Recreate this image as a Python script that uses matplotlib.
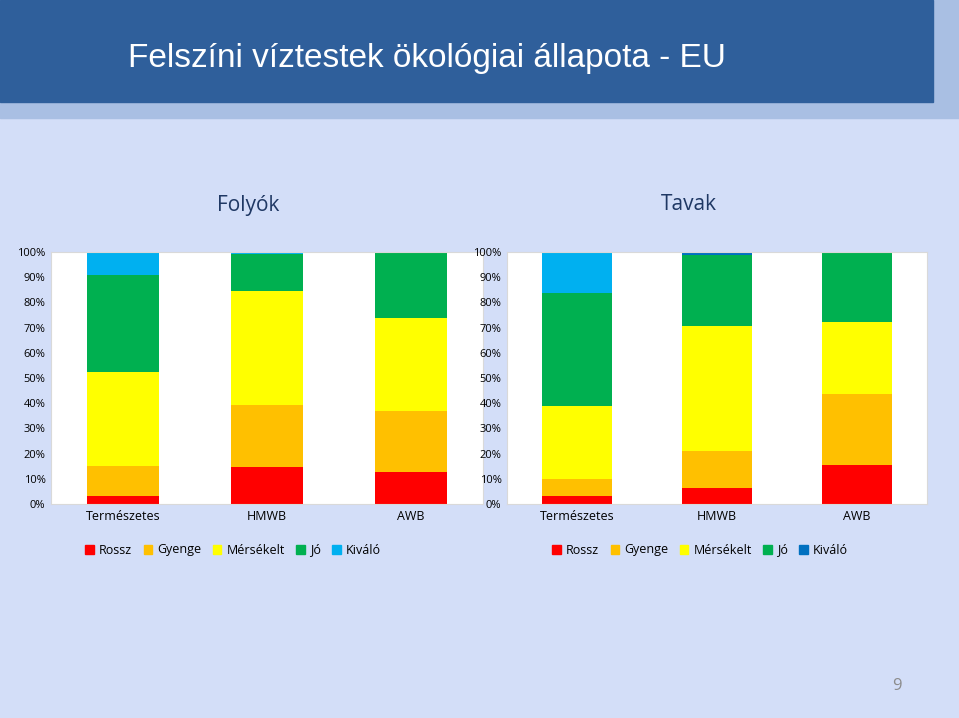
import matplotlib; matplotlib.use("Agg")
import matplotlib.pyplot as plt
from matplotlib.patches import Rectangle

W, H = 959, 718
cats = ["Természetes", "HMWB", "AWB"]
levels = ["Rossz", "Gyenge", "Mérsékelt", "Jó", "Kiváló"]
# shares in %, per category
folyok = {"Rossz": [3.2, 14.7, 12.7], "Gyenge": [11.8, 24.6, 24.2],
          "Mérsékelt": [37.4, 45.2, 36.9], "Jó": [38.6, 14.7, 25.8],
          "Kiváló": [9.0, 0.8, 0.4]}
tavak = {"Rossz": [3.2, 6.3, 15.5], "Gyenge": [6.7, 14.7, 28.2],
         "Mérsékelt": [29.0, 49.6, 28.5], "Jó": [44.8, 28.2, 27.8],
         "Kiváló": [16.3, 1.2, 0.0]}
col_l = {"Rossz": "#FF0000", "Gyenge": "#FFC000", "Mérsékelt": "#FFFF00", "Jó": "#00B050", "Kiváló": "#00B0F0"}
col_r = dict(col_l, Kiváló="#0070C0")
# in the original, the first lake bar's top segment is light blue
tavak_kivalo_bar_cols = ["#00B0F0", "#0070C0", "#0070C0"]

plt.rcParams["font.family"] = "Open Sans"
fig = plt.figure(figsize=(W/100, H/100), dpi=100)
fig.patch.set_facecolor("#D3DEF8")
def px(x, y, w, h): return [x/W, 1-(y+h)/H, w/W, h/H]
bg = fig.add_axes([0, 0, 1, 1]); bg.set_axis_off(); bg.set_xlim(0, W); bg.set_ylim(H, 0)
bg.add_patch(Rectangle((0, 0), W, 118, color="#A9BFE3"))
bg.add_patch(Rectangle((0, 0), 933, 102, color="#2F5F9B"))
bg.text(128, 58, "Felszíni víztestek ökológiai állapota - EU", color="white", fontsize=24,
        va="center", family="Liberation Sans")
bg.text(248, 205, "Folyók", color="#1F3864", fontsize=15, ha="center", va="center")
bg.text(689, 205, "Tavak", color="#1F3864", fontsize=15, ha="center", va="center")
bg.text(897, 686, "9", color="#8C8C8C", fontsize=12, ha="center", va="center")

def panel(rect, data, cols, legx, top_cols=None):
    ax = fig.add_axes(px(*rect))
    ax.set_facecolor("white")
    bottom = [0, 0, 0]
    for lv in levels:
        c = top_cols if (lv == "Kiváló" and top_cols) else cols[lv]
        ax.bar(range(3), data[lv], bottom=bottom, width=0.5, color=c)
        bottom = [b + v for b, v in zip(bottom, data[lv])]
    ax.set_ylim(0, 100); ax.set_xlim(-0.5, 2.5)
    ax.set_yticks(range(0, 101, 10)); ax.set_yticklabels([f"{v}%" for v in range(0, 101, 10)], fontsize=8)
    ax.set_xticks(range(3)); ax.set_xticklabels(cats, fontsize=9)
    ax.tick_params(length=0, pad=4)
    for s in ax.spines.values(): s.set_color("#D9D9D9")
    handles = [Rectangle((0, 0), 1, 1, color=cols[lv]) for lv in levels]
    fig.legend(handles, levels, loc="center", bbox_to_anchor=(legx/W, 1-550/H), ncol=5, frameon=False,
               fontsize=9, handlelength=0.7, handleheight=0.7, handletextpad=0.4, columnspacing=0.9)

panel((51, 252, 432, 252), folyok, col_l, 233)
panel((507, 252, 420, 252), tavak, col_r, 700, tavak_kivalo_bar_cols)
fig.savefig("out.png", dpi=100, facecolor=fig.get_facecolor())
